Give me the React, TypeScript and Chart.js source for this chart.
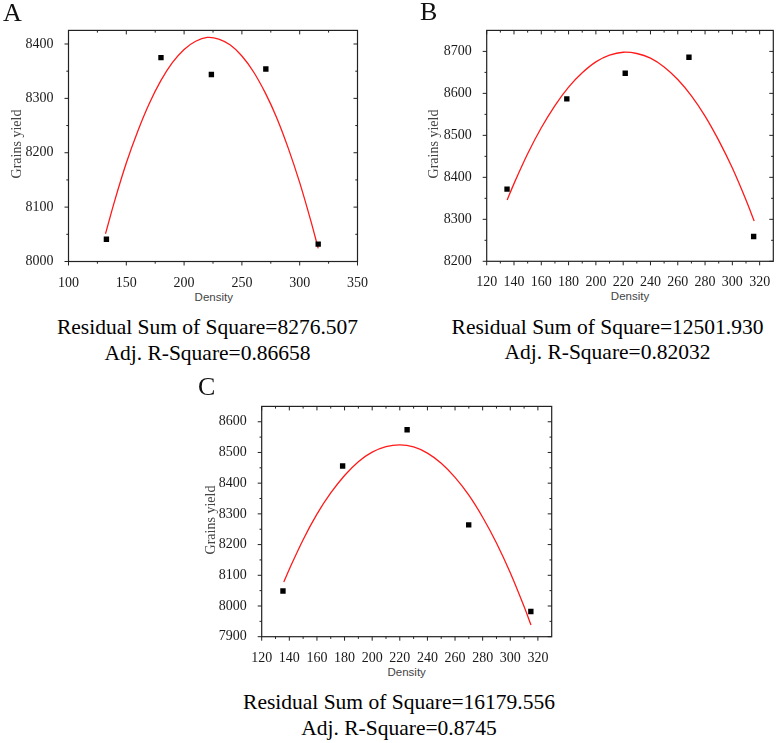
import React, { useEffect, useRef } from "react";
import { Chart, registerables } from "chart.js";

Chart.register(...registerables);

// ---------- data ----------
const densityA = [132.8, 180.0, 223.6, 270.7, 316.0];
const yieldA = [8041, 8375, 8344, 8354, 8032];
const fitDensityA = [132, 140, 150, 160, 170, 180, 190, 200, 210, 220, 230, 240, 250, 260, 270, 280, 290, 300, 310, 316];
const fitYieldA = [8051, 8112, 8181, 8240, 8291, 8333, 8366, 8390, 8405, 8412, 8409, 8398, 8378, 8349, 8311, 8265, 8209, 8145, 8072, 8024];

const densityB = [134.9, 178.7, 221.5, 268.2, 315.6];
const yieldB = [8372, 8587, 8648, 8686, 8259];
const fitDensityB = [135, 140, 150, 160, 170, 180, 190, 200, 210, 220, 230, 240, 250, 260, 270, 280, 290, 300, 310, 316];
const fitYieldB = [8346, 8385, 8456, 8518, 8571, 8615, 8649, 8675, 8691, 8698, 8695, 8684, 8663, 8633, 8594, 8546, 8488, 8422, 8346, 8296];

const densityC = [135.4, 178.6, 225.3, 269.9, 314.9];
const yieldC = [8049, 8456, 8574, 8264, 7982];
const fitDensityC = [136, 140, 150, 160, 170, 180, 190, 200, 210, 220, 230, 240, 250, 260, 270, 280, 290, 300, 310, 315];
const fitYieldC = [8078, 8120, 8216, 8299, 8368, 8425, 8470, 8501, 8519, 8525, 8518, 8498, 8465, 8419, 8361, 8289, 8205, 8108, 7998, 7938];

const xRangeA = [100, 350, 50];
const yRangeA = [8000, 8425, 100];
const xRangeB = [120, 330, 20];
const yRangeB = [8200, 8750, 100];
const xRangeC = [120, 330, 20];
const yRangeC = [7900, 8650, 100];

const panelLabels = ["A", "B", "C"];
const xTitle = "Density";
const yTitle = "Grains yield";
const captionsA = ["Residual Sum of Square=8276.507", "Adj. R-Square=0.86658"];
const captionsB = ["Residual Sum of Square=12501.930", "Adj. R-Square=0.82032"];
const captionsC = ["Residual Sum of Square=16179.556", "Adj. R-Square=0.8745"];

// ---------- style ----------
const SERIF = "'Liberation Serif', 'Times New Roman', serif";
const SANS = "'Liberation Sans', Arial, sans-serif";

const frameTicks = {
  id: "frameTicks",
  afterDraw(chart: any) {
    const { ctx, chartArea: a, scales } = chart;
    const xs = scales.x;
    const ys = scales.y;
    ctx.save();
    ctx.strokeStyle = "#222";
    ctx.lineWidth = 1.2;
    ctx.strokeRect(a.left, a.top, a.right - a.left, a.bottom - a.top);
    ctx.lineWidth = 1;
    const seg = (x1: number, y1: number, x2: number, y2: number) => {
      ctx.beginPath();
      ctx.moveTo(x1, y1);
      ctx.lineTo(x2, y2);
      ctx.stroke();
    };
    const collect = (s: any) => {
      const step = s.options.ticks.stepSize;
      const major = s.ticks.map((t: any) => t.value);
      const minor: number[] = [];
      major.forEach((v: number) => {
        const m = v + step / 2;
        if (m < s.max - 1e-6) minor.push(m);
      });
      return { major, minor };
    };
    const X = collect(xs);
    const Y = collect(ys);
    const ML = 4;
    const mL = 2.2;
    X.major.forEach((v: number) => {
      const p = xs.getPixelForValue(v);
      seg(p, a.bottom, p, a.bottom + ML);
      seg(p, a.top, p, a.top + ML);
    });
    X.minor.forEach((v: number) => {
      const p = xs.getPixelForValue(v);
      seg(p, a.bottom, p, a.bottom + mL);
      seg(p, a.top, p, a.top + mL);
    });
    Y.major.forEach((v: number) => {
      const p = ys.getPixelForValue(v);
      seg(a.left - ML, p, a.left, p);
      seg(a.right - ML, p, a.right, p);
    });
    Y.minor.forEach((v: number) => {
      const p = ys.getPixelForValue(v);
      seg(a.left - mL, p, a.left, p);
      seg(a.right - mL, p, a.right, p);
    });
    ctx.restore();
  },
};

type Area = { l: number; t: number; r: number; b: number };

const YW = 60;
const PT = 12;
const PR = 14;
const XH = 26;

function Panel(props: {
  area: Area;
  xs: number[];
  ys: number[];
  fx: number[];
  fy: number[];
  xr: number[];
  yr: number[];
}) {
  const ref = useRef<HTMLCanvasElement | null>(null);
  const { area, xs, ys, fx, fy, xr, yr } = props;
  const cl = Math.floor(area.l - YW);
  const ct = Math.floor(area.t - PT);
  const cw = Math.ceil(area.r + PR) - cl;
  const ch = Math.ceil(area.b + XH) - ct;
  const yw = area.l - cl;
  const pt = area.t - ct;
  const pr = cl + cw - area.r;
  const xh = ct + ch - area.b;

  useEffect(() => {
    if (!ref.current) return;
    const tickFont = { family: SERIF, size: 14 };
    const plain = (v: any) => String(v);
    const chart = new Chart(ref.current, {
      type: "scatter",
      data: {
        datasets: [
          {
            label: "observed",
            data: xs.map((x, i) => ({ x, y: ys[i] })),
            pointStyle: "rect",
            pointRadius: 3.8,
            backgroundColor: "#000",
            borderWidth: 0,
          } as any,
          {
            label: "fit",
            data: fx.map((x, i) => ({ x, y: fy[i] })),
            showLine: true,
            pointRadius: 0,
            borderColor: "#ff1a1a",
            borderWidth: 1.3,
            tension: 0.3,
          } as any,
        ],
      },
      options: {
        animation: false,
        responsive: false,
        maintainAspectRatio: false,
        layout: { padding: { top: pt, right: pr, left: 0, bottom: 0 } },
        plugins: { legend: { display: false }, tooltip: { enabled: false } },
        scales: {
          x: {
            type: "linear",
            min: xr[0],
            max: xr[1],
            grid: { display: false },
            border: { display: false },
            ticks: {
              stepSize: xr[2],
              includeBounds: false,
              autoSkip: false,
              maxRotation: 0,
              padding: 5,
              color: "#1a1a1a",
              font: tickFont,
              callback: plain,
            },
            afterFit: (s: any) => {
              s.height = xh;
            },
          },
          y: {
            type: "linear",
            min: yr[0],
            max: yr[1],
            grid: { display: false },
            border: { display: false },
            ticks: {
              stepSize: yr[2],
              includeBounds: false,
              autoSkip: false,
              padding: 7,
              color: "#1a1a1a",
              font: tickFont,
              callback: plain,
            },
            afterFit: (s: any) => {
              s.width = yw;
            },
          },
        },
      } as any,
      plugins: [frameTicks],
    });
    return () => chart.destroy();
  }, []);

  return (
    <canvas
      ref={ref}
      width={cw}
      height={ch}
      style={{ position: "absolute", left: cl, top: ct, width: cw, height: ch }}
    />
  );
}

function Texts(props: { area: Area; letter: string; letterPos: number[]; yTitleX: number; caps: string[]; capX: number }) {
  const { area, letter, letterPos, yTitleX, caps, capX } = props;
  const cx = (area.l + area.r) / 2;
  const cy = (area.t + area.b) / 2;
  const densityY = area.b + 35;
  return (
    <>
      <div
        style={{
          position: "absolute",
          left: letterPos[0],
          top: letterPos[1],
          fontFamily: SERIF,
          fontSize: 26,
          lineHeight: "26px",
          color: "#111",
        }}
      >
        {letter}
      </div>
      <div
        style={{
          position: "absolute",
          left: yTitleX,
          top: cy,
          transform: "translate(-50%, -50%) rotate(-90deg)",
          fontFamily: SERIF,
          fontSize: 14,
          lineHeight: "14px",
          color: "#444",
          whiteSpace: "nowrap",
        }}
      >
        {yTitle}
      </div>
      <div
        style={{
          position: "absolute",
          left: cx,
          top: densityY,
          transform: "translate(-50%, -50%)",
          fontFamily: SANS,
          fontSize: 11.5,
          lineHeight: "12px",
          color: "#444",
          whiteSpace: "nowrap",
        }}
      >
        {xTitle}
      </div>
      {caps.map((c, i) => (
        <div
          key={i}
          style={{
            position: "absolute",
            left: capX,
            top: densityY + 30.5 + i * 25.5 - 13,
            transform: "translateX(-50%)",
            fontFamily: SERIF,
            fontSize: 21.5,
            lineHeight: "26px",
            color: "#000",
            whiteSpace: "nowrap",
          }}
        >
          {c}
        </div>
      ))}
    </>
  );
}

const areaA: Area = { l: 68.5, t: 27.3, r: 359, b: 261.5 };
const areaB: Area = { l: 486.7, t: 27.3, r: 773.3, b: 261.3 };
const areaC: Area = { l: 261.7, t: 403.3, r: 551.7, b: 636.7 };

export default function App() {
  return (
    <div
      style={{
        position: "absolute",
        left: 0,
        top: 0,
        width: 781,
        height: 743,
        background: "#fff",
        overflow: "hidden",
      }}
    >
      <Panel area={areaA} xs={densityA} ys={yieldA} fx={fitDensityA} fy={fitYieldA} xr={xRangeA} yr={yRangeA} />
      <Panel area={areaB} xs={densityB} ys={yieldB} fx={fitDensityB} fy={fitYieldB} xr={xRangeB} yr={yRangeB} />
      <Panel area={areaC} xs={densityC} ys={yieldC} fx={fitDensityC} fy={fitYieldC} xr={xRangeC} yr={yRangeC} />
      <Texts area={areaA} letter={panelLabels[0]} letterPos={[3, 0]} yTitleX={17} caps={captionsA} capX={207.5} />
      <Texts area={areaB} letter={panelLabels[1]} letterPos={[420, -1]} yTitleX={434} caps={captionsB} capX={607.5} />
      <Texts area={areaC} letter={panelLabels[2]} letterPos={[198, 373.5]} yTitleX={211} caps={captionsC} capX={399} />
    </div>
  );
}
